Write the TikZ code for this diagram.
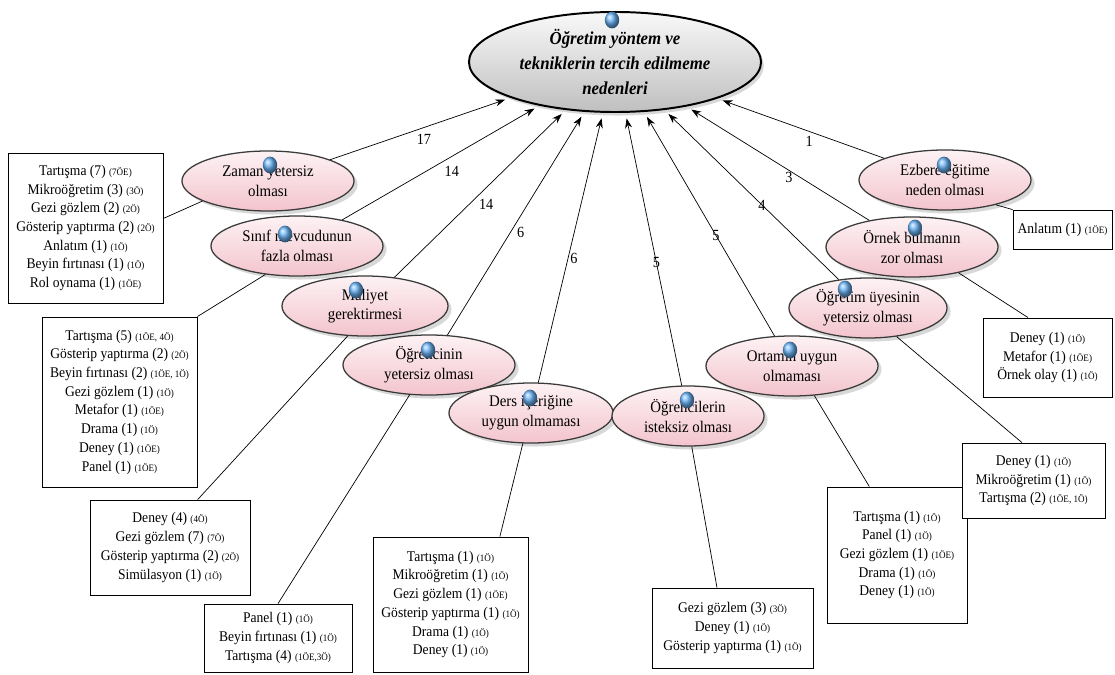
\documentclass[tikz,border=0pt]{standalone}
\usepackage{fontspec}
\setmainfont[FakeStretch=0.92]{Liberation Serif}
\usetikzlibrary{shapes.geometric,arrows.meta,shadows,calc}

\definecolor{pembe}{HTML}{F3C4CD}
\definecolor{pembeacik}{HTML}{FDF2F4}
\definecolor{kenar}{HTML}{3A3A3A}
\definecolor{mavi}{HTML}{6AB2F4}

\newcommand{\kod}[1]{{\fontsize{7}{8}\selectfont #1}}

\begin{document}
\begin{tikzpicture}
  [x=0.025cm, y=-0.025cm,
   ana/.style={ellipse, draw=black, line width=1.4pt, top color=gray!5, bottom color=gray!50,
     inner sep=0pt, minimum width=7.3cm, minimum height=2.5cm, align=center,
     font=\fontsize{13}{17.8}\selectfont\bfseries\itshape,
     drop shadow={shadow xshift=2pt, shadow yshift=-2.5pt, opacity=.3}},
   neden/.style={ellipse, draw=kenar, line width=0.9pt, top color=pembeacik, bottom color=pembe,
     inner sep=0pt, minimum width=4.3cm, minimum height=1.5cm, align=center,
     font=\fontsize{11.5}{14}\selectfont,
     drop shadow={shadow xshift=2.5pt, shadow yshift=-2.5pt, opacity=.3}},
   kutu/.style={draw, line width=0.6pt, fill=white, inner sep=1pt, align=center,
     font=\fontsize{10.5}{13.3}\selectfont},
   ikon/.style={ellipse, inner sep=0pt, minimum width=0.36cm, minimum height=0.42cm,
     shading=ball, ball color=mavi},
   ok/.style={-{Stealth[length=7pt,width=5pt]}, line width=0.5pt, shorten >=4pt},
   bag/.style={line width=0.5pt},
   sayi/.style={font=\fontsize{11}{13}\selectfont, inner sep=1.5pt}]

  \path[use as bounding box, fill=white] (0,0) rectangle (1115,675);

  \node[ana] (ana) at (615,62) {Öğretim yöntem ve\\tekniklerin tercih edilmeme\\nedenleri};

  \node[neden] (zaman) at (268,181) {Zaman yetersiz\\olması};
  \node[neden] (sinif) at (297,246) {Sınıf mevcudunun\\fazla olması};
  \node[neden, minimum width=4.15cm] (maliyet) at (365,306) {Maliyet\\gerektirmesi};
  \node[neden] (ogrenci) at (429,365) {Öğrencinin\\yetersiz olması};
  \node[neden, minimum width=4.1cm] (ders) at (531,413) {Ders içeriğine\\uygun olmaması};
  \node[neden, minimum width=3.8cm] (isteksiz) at (688,416) {Öğrencilerin\\isteksiz olması};
  \node[neden] (ortam) at (792,366) {Ortamın uygun\\olmaması};
  \node[neden, minimum width=3.95cm] (uye) at (868,308) {Öğretim üyesinin\\yetersiz olması};
  \node[neden] (ornek) at (912,247) {Örnek bulmanın\\zor olması};
  \node[neden] (ezber) at (945,180) {Ezbere eğitime\\neden olması};

  \foreach \n/\dx/\dy in {ana/-3/-42, zaman/2/-16, sinif/-12/-12, maliyet/-9/-16,
      ogrenci/-1/-15, ders/-1/-15, isteksiz/-1/-16, ortam/-2/-16, uye/-23/-19,
      ornek/3/-19, ezber/-1/-15}
    \node[ikon] (ik-\n) at ($(\n)+(\dx,\dy)$) {};

  \draw[ok] (zaman) -- node[sayi, pos=.52, below=3pt] (s-zaman) {17} (ana);
  \draw[ok] (sinif) -- node[sayi, pos=.50, below right=1pt] (s-sinif) {14} (ana);
  \draw[ok] (maliyet) -- node[sayi, pos=.48, below right] (s-maliyet) {14} (ana);
  \draw[ok] (ogrenci) -- node[sayi, pos=.46, right=3pt] (s-ogrenci) {6} (ana);
  \draw[ok] (ders) -- node[sayi, pos=.46, right] (s-ders) {6} (ana);
  \draw[ok] (isteksiz) -- node[sayi, pos=.45] (s-isteksiz) {5} (ana);
  \draw[ok] (ortam) -- node[sayi, pos=.45] (s-ortam) {5} (ana);
  \draw[ok] (uye) -- node[sayi, pos=.44] (s-uye) {4} (ana);
  \draw[ok] (ornek) -- node[sayi, pos=.44, below] (s-ornek) {3} (ana);
  \draw[ok] (ezber) -- node[sayi, pos=.45, below=1.5pt] (s-ezber) {1} (ana);

  \node[kutu, minimum width=3.875cm, minimum height=3.75cm] (kzaman) at (85.5,228)
    {Tartışma (7) \kod{(7ÖE)}\\Mikroöğretim (3) \kod{(3Ö)}\\Gezi gözlem (2) \kod{(2Ö)}\\
     Gösterip yaptırma (2) \kod{(2Ö)}\\Anlatım (1) \kod{(1Ö)}\\Beyin fırtınası (1) \kod{(1Ö)}\\
     Rol oynama (1) \kod{(1ÖE)}};
  \node[kutu, minimum width=3.875cm, minimum height=4.25cm] (ksinif) at (119.5,402)
    {Tartışma (5) \kod{(1ÖE, 4Ö)}\\Gösterip yaptırma (2) \kod{(2Ö)}\\
     Beyin fırtınası (2) \kod{(1ÖE, 1Ö)}\\Gezi gözlem (1) \kod{(1Ö)}\\Metafor (1) \kod{(1ÖE)}\\
     Drama (1) \kod{(1Ö)}\\Deney (1) \kod{(1ÖE)}\\Panel (1) \kod{(1ÖE)}};
  \node[kutu, minimum width=4cm, minimum height=2.375cm] (kmaliyet) at (170,547.5)
    {Deney (4) \kod{(4Ö)}\\Gezi gözlem (7) \kod{(7Ö)}\\Gösterip yaptırma (2) \kod{(2Ö)}\\
     Simülasyon (1) \kod{(1Ö)}};
  \node[kutu, minimum width=3.7cm, minimum height=1.7cm] (kogrenci) at (278,638)
    {Panel (1) \kod{(1Ö)}\\Beyin fırtınası (1) \kod{(1Ö)}\\Tartışma (4) \kod{(1ÖE,3Ö)}};
  \node[kutu, minimum width=3.875cm, minimum height=3.375cm] (kders) at (450.5,604.5)
    {Tartışma (1) \kod{(1Ö)}\\Mikroöğretim (1) \kod{(1Ö)}\\Gezi gözlem (1) \kod{(1ÖE)}\\
     Gösterip yaptırma (1) \kod{(1Ö)}\\Drama (1) \kod{(1Ö)}\\Deney (1) \kod{(1Ö)}};
  \node[kutu, minimum width=4.025cm, minimum height=2cm] (kisteksiz) at (732.5,628)
    {Gezi gözlem (3) \kod{(3Ö)}\\Deney (1) \kod{(1Ö)}\\Gösterip yaptırma (1) \kod{(1Ö)}};
  \node[kutu, minimum width=3.5cm, minimum height=3.4cm] (kortam) at (897,555)
    {Tartışma (1) \kod{(1Ö)}\\Panel (1) \kod{(1Ö)}\\Gezi gözlem (1) \kod{(1ÖE)}\\
     Drama (1) \kod{(1Ö)}\\Deney (1) \kod{(1Ö)}};
  \node[kutu, minimum width=3.575cm, minimum height=1.875cm] (kuye) at (1033.5,480.5)
    {Deney (1) \kod{(1Ö)}\\Mikroöğretim (1) \kod{(1Ö)}\\Tartışma (2) \kod{(1ÖE, 1Ö)}};
  \node[kutu, minimum width=3.225cm, minimum height=1.975cm] (kornek) at (1047.5,357.5)
    {Deney (1) \kod{(1Ö)}\\Metafor (1) \kod{(1ÖE)}\\Örnek olay (1) \kod{(1Ö)}};
  \node[kutu, minimum width=2.475cm, minimum height=0.975cm] (kezber) at (1062.5,229.5)
    {Anlatım (1) \kod{(1ÖE)}};

  \draw[bag] (kzaman.7) -- (zaman.197);
  \draw[bag] (ksinif.north east) -- (sinif.222);
  \draw[bag] (kmaliyet.60) -- (maliyet.240);
  \draw[bag] (kogrenci.north) -- (ogrenci.237);
  \draw[bag] (kders.54) -- (ders.255);
  \draw[bag] (kisteksiz.111) -- (isteksiz.277);
  \draw[bag] (kortam.112) -- (ortam.307);
  \draw[bag] (kuye.107) -- (uye.315);
  \draw[bag] (kornek.116) -- (ornek.331);
  \draw[bag] (kezber.north west) -- (ezber.334);
\end{tikzpicture}
\end{document}
